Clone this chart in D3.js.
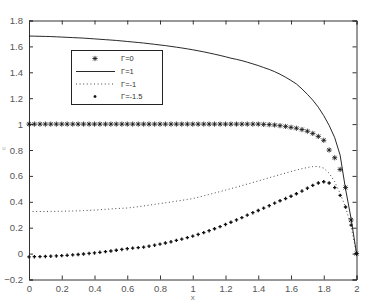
<!DOCTYPE html>
<html>
<head>
<meta charset="utf-8">
<script src="https://cdn.jsdelivr.net/npm/d3@7"></script>
<style>
  body { margin: 0; background: #fff; }
  svg { display: block; }
  text { font-family: "Liberation Sans", Arial, sans-serif; }
</style>
</head>
<body>
<div id="chart"></div>
<script>
// x grid (shared by all series)
const xs = [0, .033, .067, .1, .133, .167, .2, .233, .267, .3, .333, .367, .4, .433, .467, .5,
  .533, .567, .6, .633, .667, .7, .733, .767, .8, .833, .867, .9, .933, .967, 1,
  1.033, 1.067, 1.1, 1.133, 1.167, 1.2, 1.233, 1.267, 1.3, 1.333, 1.367, 1.4, 1.433, 1.467, 1.5,
  1.533, 1.567, 1.6, 1.633, 1.667, 1.7, 1.733, 1.767, 1.8, 1.833, 1.867, 1.9, 1.933, 1.967, 2]

// Γ=0 (asterisks)
const gamma0 = [1, 1, 1, 1, 1, 1, 1, 1, 1, 1, 1, 1, 1, 1, 1, 1,
  1, 1, 1, 1, 1, 1, 1, 1, 1, 1, 1, 1, 1, 1, 1,
  1, 1, 1, 1, 1, 1, 1, 1, 1, 1, 1, 1, .998, .996, .993,
  .988, .982, .975, .968, .958, .945, .928, .905, .875, .80, .74, .65, .51, .26, 0]

// Γ=1 (solid)
const gamma1 = [1.680, 1.679, 1.678, 1.677, 1.676, 1.674, 1.672, 1.670, 1.668, 1.666, 1.664, 1.661, 1.658, 1.655, 1.652, 1.649,
  1.646, 1.642, 1.638, 1.634, 1.630, 1.626, 1.621, 1.616, 1.611, 1.606, 1.600, 1.594, 1.588, 1.581, 1.574,
  1.566, 1.558, 1.549, 1.540, 1.530, 1.520, 1.509, 1.500, 1.490, 1.478, 1.465, 1.452, 1.437, 1.422, 1.405,
  1.385, 1.362, 1.337, 1.310, 1.272, 1.230, 1.185, 1.130, 1.065, 0.990, 0.895, 0.760, 0.500, 0.270, 0]

// Γ=-1 (dotted)
const gammaM1 = [.325, .325, .325, .325, .326, .326, .327, .328, .329, .330, .332, .334, .336, .339, .342, .345,
  .348, .350, .352, .357, .362, .368, .374, .380, .386, .392, .398, .405, .411, .418, .425,
  .435, .446, .457, .468, .479, .490, .502, .513, .525, .537, .549, .561, .573, .586, .598,
  .610, .622, .634, .645, .656, .665, .672, .672, .660, .620, .555, .465, .360, .210, 0]

// Γ=-1.5 (points)
const gammaM15 = [-.025, -.024, -.023, -.022, -.020, -.018, -.016, -.013, -.010, -.007, -.003, .001, .005, .010, .015, .020,
  .026, .032, .038, .042, .046, .050, .057, .065, .073, .082, .091, .102, .112, .123, .135,
  .148, .162, .177, .192, .208, .225, .242, .260, .278, .297, .316, .333, .351, .370, .390,
  .408, .425, .443, .462, .483, .505, .527, .545, .555, .545, .510, .450, .360, .220, 0]

const xTicks = [0, 0.2, 0.4, 0.6, 0.8, 1, 1.2, 1.4, 1.6, 1.8, 2]
const yTicks = [-0.2, 0, 0.2, 0.4, 0.6, 0.8, 1, 1.2, 1.4, 1.6, 1.8]
const legendLabels = ["Γ=0", "Γ=1", "Γ=-1", "Γ=-1.5"]

const width = 365, height = 304
const margin = { top: 20.5, right: 8.5, bottom: 24.5, left: 29 }

const svg = d3.select("#chart").append("svg")
  .attr("width", width)
  .attr("height", height)

const x = d3.scaleLinear().domain([0, 2]).range([margin.left, width - margin.right])
const y = d3.scaleLinear().domain([-0.2, 1.8]).range([height - margin.bottom, margin.top])

const axisColor = "#333"
const tickFmt = d => d3.format("")(+d.toFixed(1))

// ejes (caja estilo matlab, ticks hacia dentro)
const fontSize = 9.5
svg.append("g")
  .attr("transform", `translate(0,${y(-0.2)})`)
  .call(d3.axisBottom(x).tickValues(xTicks).tickSize(-4).tickPadding(6).tickFormat(tickFmt))
svg.append("g")
  .attr("transform", `translate(0,${y(1.8)})`)
  .call(d3.axisTop(x).tickValues(xTicks).tickSize(-4).tickFormat(""))
svg.append("g")
  .attr("transform", `translate(${x(0)},0)`)
  .call(d3.axisLeft(y).tickValues(yTicks).tickSize(-4).tickPadding(6).tickFormat(tickFmt))
svg.append("g")
  .attr("transform", `translate(${x(2)},0)`)
  .call(d3.axisRight(y).tickValues(yTicks).tickSize(-4).tickFormat(""))

svg.selectAll(".domain").attr("stroke", axisColor)
svg.selectAll(".tick line").attr("stroke", axisColor)
svg.selectAll(".tick text")
  .attr("fill", "#555")
  .style("font-size", fontSize + "px")

// etiquetas
svg.append("text")
  .attr("x", x(1))
  .attr("y", 300)
  .attr("text-anchor", "middle")
  .attr("fill", "#777")
  .style("font-size", "8px")
  .text("x")
svg.append("text")
  .attr("x", 4)
  .attr("y", y(0.8))
  .attr("text-anchor", "middle")
  .attr("fill", "#aaa")
  .style("font-size", "6px")
  .text("u")

const line = d3.line().x((d, i) => x(xs[i])).y(d => y(d))

// Γ=1 solid
svg.append("path")
  .datum(gamma1)
  .attr("d", line)
  .attr("fill", "none")
  .attr("stroke", "#111")
  .attr("stroke-width", 0.9)

// Γ=-1 dotted
svg.append("path")
  .datum(gammaM1)
  .attr("d", line)
  .attr("fill", "none")
  .attr("stroke", "#333")
  .attr("stroke-width", 0.9)
  .attr("stroke-dasharray", "1,2.6")

// marcadores
function asterisk(g, cx, cy, r) {
  const p = `M${cx - r},${cy}H${cx + r}M${cx},${cy - r}V${cy + r}` +
    `M${cx - r * 0.75},${cy - r * 0.75}L${cx + r * 0.75},${cy + r * 0.75}` +
    `M${cx - r * 0.75},${cy + r * 0.75}L${cx + r * 0.75},${cy - r * 0.75}`
  g.append("path").attr("d", p).attr("stroke", "#111").attr("stroke-width", 0.8).attr("fill", "none")
}
function plusDot(g, cx, cy, r) {
  const p = `M${cx - r},${cy}H${cx + r}M${cx},${cy - r}V${cy + r}`
  g.append("path").attr("d", p).attr("stroke", "#111").attr("stroke-width", 1.3).attr("fill", "none")
}

const g0 = svg.append("g")
gamma0.forEach((v, i) => asterisk(g0, x(xs[i]), y(v), 2.6))

const g15 = svg.append("g")
gammaM15.forEach((v, i) => plusDot(g15, x(xs[i]), y(v), 1.7))

// leyenda
const lg = svg.append("g")
lg.append("rect")
  .attr("x", 71.5).attr("y", 50.5)
  .attr("width", 91).attr("height", 54)
  .attr("fill", "#fff")
  .attr("stroke", "#222")
  .attr("stroke-width", 1)

const rowY = [58.5, 71.5, 84, 96.5]
asterisk(lg, 95, rowY[0], 2.6)
lg.append("line").attr("x1", 76).attr("x2", 115).attr("y1", rowY[1]).attr("y2", rowY[1])
  .attr("stroke", "#111").attr("stroke-width", 0.9)
lg.append("line").attr("x1", 76).attr("x2", 115).attr("y1", rowY[2]).attr("y2", rowY[2])
  .attr("stroke", "#333").attr("stroke-width", 0.9).attr("stroke-dasharray", "1,2.6")
plusDot(lg, 95, rowY[3], 1.4)

lg.selectAll("text.lbl")
  .data(legendLabels)
  .join("text")
  .attr("class", "lbl")
  .attr("x", 121)
  .attr("y", (d, i) => rowY[i] + 2.5)
  .attr("fill", "#333")
  .style("font-size", "7.5px")
  .text(d => d)
</script>
</body>
</html>
